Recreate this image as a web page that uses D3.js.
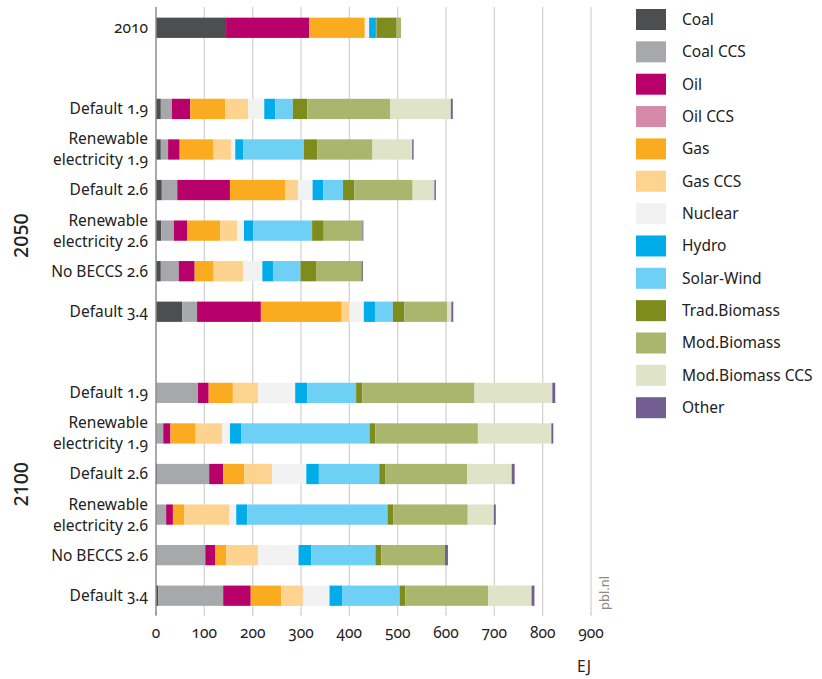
<!DOCTYPE html>
<html>
<head>
<meta charset="utf-8">
<script src="https://cdn.jsdelivr.net/npm/d3@7"></script>
<style>
  body { margin: 0; background: #fff; }
  svg text { font-family: "Noto Sans", "Open Sans", sans-serif; fill: #222; }
  .num { font-variant-numeric: oldstyle-nums; }
</style>
</head>
<body>
<svg id="chart" width="822" height="679"></svg>
<script>
// Energy carriers (stack order) and their colours
const carriers = ["Coal", "Coal CCS", "Oil", "Oil CCS", "Gas", "Gas CCS", "Nuclear",
  "Hydro", "Solar-Wind", "Trad.Biomass", "Mod.Biomass", "Mod.Biomass CCS", "Other"];
const colors = ["#4d4e50", "#a7a8ab", "#b8006b", "#d68aa9", "#fbab1f", "#fed28f", "#f2f2f2",
  "#00adea", "#6fd0f6", "#7e8c1e", "#aab56e", "#dfe3c8", "#735e92"];

// Row keys, shown labels and period groups
const rowKeys = ["2010", "gapA",
  "2050 D1.9", "2050 RE1.9", "2050 D2.6", "2050 RE2.6", "2050 NB2.6", "2050 D3.4", "gapB",
  "2100 D1.9", "2100 RE1.9", "2100 D2.6", "2100 RE2.6", "2100 NB2.6", "2100 D3.4"];
const rowLabels = {
  "2010": ["2010"],
  "2050 D1.9": ["Default 1.9"], "2050 RE1.9": ["Renewable", "electricity 1.9"],
  "2050 D2.6": ["Default 2.6"], "2050 RE2.6": ["Renewable", "electricity 2.6"],
  "2050 NB2.6": ["No BECCS 2.6"], "2050 D3.4": ["Default 3.4"],
  "2100 D1.9": ["Default 1.9"], "2100 RE1.9": ["Renewable", "electricity 1.9"],
  "2100 D2.6": ["Default 2.6"], "2100 RE2.6": ["Renewable", "electricity 2.6"],
  "2100 NB2.6": ["No BECCS 2.6"], "2100 D3.4": ["Default 3.4"]
};

// Primary energy use per carrier (EJ), in carrier order
const v2010      = [145, 0, 172, 0, 115, 0, 9, 14, 1, 42, 9, 0, 0];
const v2050D19   = [10, 23, 38, 0, 72, 48, 33, 23, 36, 30, 172, 125, 4];
const v2050RE19  = [10, 15, 24, 0, 69, 37, 9, 17, 125, 28, 114, 82, 3];
const v2050D26   = [12, 32, 109, 0, 115, 26, 30, 22, 41, 23, 121, 45, 3];
const v2050RE26  = [11, 26, 28, 0, 68, 35, 14, 19, 122, 24, 80, 0, 2];
const v2050NB26  = [10, 37, 33, 0, 39, 61, 40, 22, 57, 32, 94, 0, 3];
const v2050D34   = [54, 31, 132, 0, 167, 16, 30, 23, 37, 24, 88, 9, 4];
const v2100D19   = [0, 87, 22, 0, 50, 52, 77, 25, 101, 13, 232, 161, 6];
const v2100RE19  = [0, 15, 15, 0, 52, 55, 16, 23, 266, 12, 212, 152, 4];
const v2100D26   = [3, 107, 29, 0, 44, 57, 71, 26, 125, 13, 169, 92, 6];
const v2100RE26  = [0, 21, 14, 0, 23, 93, 15, 23, 290, 12, 154, 54, 4];
const v2100NB26  = [0, 102, 21, 0, 22, 66, 84, 26, 133, 12, 132, 0, 6];
const v2100D34   = [5, 134, 57, 0, 63, 45, 55, 26, 119, 12, 171, 90, 6];

const xTicks = [0, 100, 200, 300, 400, 500, 600, 700, 800, 900];
const groupLabels = ["2050", "2100"];

const rowValues = {
  "2010": v2010,
  "2050 D1.9": v2050D19, "2050 RE1.9": v2050RE19, "2050 D2.6": v2050D26,
  "2050 RE2.6": v2050RE26, "2050 NB2.6": v2050NB26, "2050 D3.4": v2050D34,
  "2100 D1.9": v2100D19, "2100 RE1.9": v2100RE19, "2100 D2.6": v2100D26,
  "2100 RE2.6": v2100RE26, "2100 NB2.6": v2100NB26, "2100 D3.4": v2100D34
};

const svg = d3.select("#chart");
const x = d3.scaleLinear().domain([0, 900]).range([156, 591]);
const y = d3.scaleBand().domain(rowKeys).range([7.5, 616]).paddingInner(0.5).paddingOuter(0.25);
const color = d3.scaleOrdinal().domain(carriers).range(colors);

// Vertical gridlines
svg.append("g").selectAll("line").data(xTicks.filter(t => t > 0)).join("line")
  .attr("x1", d => x(d)).attr("x2", d => x(d))
  .attr("y1", 7).attr("y2", 615)
  .attr("stroke", "#d4d4d4").attr("stroke-width", 1.3);

// Stacked bars
const dataRows = rowKeys.filter(k => rowValues[k]).map(k => {
  const o = { key: k };
  carriers.forEach((c, i) => o[c] = rowValues[k][i]);
  return o;
});
const series = d3.stack().keys(carriers)(dataRows);
svg.append("g").selectAll("g").data(series).join("g")
  .attr("fill", d => color(d.key))
  .selectAll("rect").data(d => d.filter(p => p[1] > p[0])).join("rect")
  .attr("x", d => x(d[0]))
  .attr("width", d => x(d[1]) - x(d[0]))
  .attr("y", d => y(d.data.key))
  .attr("height", y.bandwidth());

// Left axis line
svg.append("line").attr("x1", x(0)).attr("x2", x(0)).attr("y1", 7).attr("y2", 615)
  .attr("stroke", "#8c8c8c").attr("stroke-width", 1.5);

// Row labels
const lab = svg.append("g").attr("font-size", 15.5).attr("text-anchor", "end");
rowKeys.filter(k => rowLabels[k]).forEach(k => {
  const lines = rowLabels[k];
  const cy = y(k) + y.bandwidth() / 2;
  const t = lab.append("text").attr("class", "num").attr("y", cy - (lines.length - 1) * 10.5);
  lines.forEach((ln, i) => {
    t.append("tspan").attr("x", 148).attr("dy", i === 0 ? "0.35em" : 21).text(ln);
  });
});

// Period group labels, placed beside the middle of each block of rows
const groupCenter = {
  "2050": y("2050 RE2.6") + y.bandwidth() / 2 + 5,
  "2100": (y("2100 D2.6") + y("2100 RE2.6")) / 2 + y.bandwidth() / 2 - 10
};
groupLabels.forEach(g => {
  svg.append("text").attr("transform", `translate(28,${groupCenter[g]}) rotate(-90)`)
    .attr("text-anchor", "middle").attr("font-size", 19.5).attr("font-weight", 500)
    .text(g);
});

// X tick marks and labels
svg.append("g").selectAll("line").data(xTicks).join("line")
  .attr("x1", d => x(d)).attr("x2", d => x(d)).attr("y1", 612).attr("y2", 616)
  .attr("stroke", d => d === 0 ? "#8c8c8c" : "#d4d4d4");
svg.append("g").attr("font-size", 15.5).attr("text-anchor", "middle")
  .selectAll("text").data(xTicks).join("text").attr("class", "num")
  .attr("x", d => x(d)).attr("y", 638).text(d => d);
svg.append("text").attr("x", 584).attr("y", 672).attr("text-anchor", "middle")
  .attr("font-size", 15.5).text("EJ");

// Source mark
svg.append("text").attr("transform", "translate(609,610) rotate(-90)")
  .attr("font-size", 13).style("fill", "#8a8a8a").text("pbl.nl");

// Legend
const leg = svg.append("g").attr("transform", "translate(636,9)");
const li = leg.selectAll("g").data(carriers).join("g")
  .attr("transform", (d, i) => `translate(0,${i * 32.35})`);
li.append("rect").attr("width", 30).attr("height", 21).attr("fill", d => color(d));
li.append("text").attr("x", 46).attr("y", 10.5).attr("dy", "0.35em")
  .attr("font-size", 15.5).text(d => d);
</script>
</body>
</html>
